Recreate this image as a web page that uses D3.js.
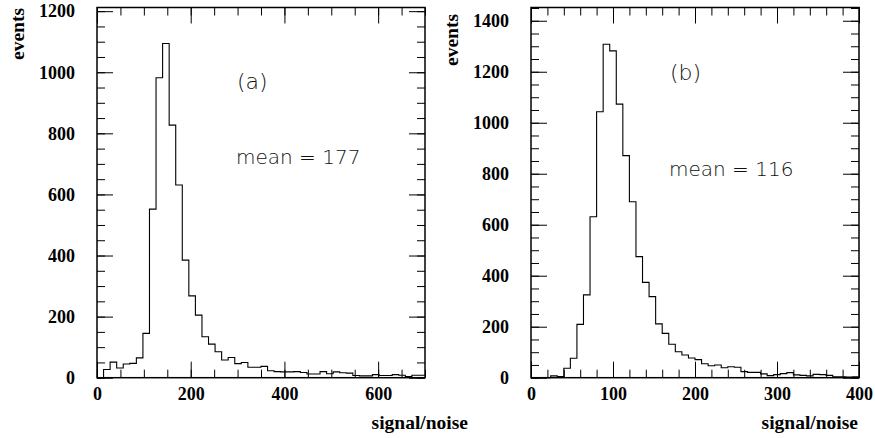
<!DOCTYPE html>
<html>
<head>
<meta charset="utf-8">
<script src="https://cdn.jsdelivr.net/npm/d3@7"></script>
<style>
body { margin: 0; background: #fff; }
.tick text { font-family: "Liberation Serif", serif; font-weight: bold; font-size: 18px; fill: #000; }
.tick line { stroke: #000; stroke-width: 1; }
.title { font-family: "Liberation Serif", serif; font-weight: bold; font-size: 19.5px; }
.note { font-family: "DejaVu Sans", sans-serif; font-weight: 200; font-size: 20px; fill: #111; }
.big { font-size: 22px; }
</style>
</head>
<body>
<svg id="chart" width="875" height="438"></svg>
<script>
// (a) counts per bin, 50 bins of width 14 from 0 to 700
var countsA = [0, 27, 51, 32, 45, 47, 65, 145, 552, 982,
	1094, 827, 631, 385, 268, 205, 134, 110, 85, 58,
	66, 46, 50, 34, 34, 37, 23, 20, 19, 19,
	20, 17, 12, 12, 20, 13, 19, 16, 15, 7,
	6, 6, 10, 7, 7, 10, 8, 4, 8, 8];
// (b) counts per bin, 50 bins of width 8 from 0 to 400
var countsB = [0, 0, 0, 7, 5, 37, 76, 209, 325, 631,
	1043, 1308, 1282, 1073, 871, 690, 475, 374, 318, 211,
	174, 131, 102, 89, 77, 71, 55, 47, 50, 39,
	43, 41, 24, 21, 21, 15, 8, 12, 16, 20,
	11, 9, 7, 13, 12, 9, 4, 4, 3, 4];
var binWidthA = 14;
var binWidthB = 8;

var xTicksA = [0, 200, 400, 600];
var yTicksA = [0, 200, 400, 600, 800, 1000, 1200];
var xTicksB = [0, 100, 200, 300, 400];
var yTicksB = [0, 200, 400, 600, 800, 1000, 1200, 1400];

var labelA = "(a)", meanA = "mean = 177";
var labelB = "(b)", meanB = "mean = 116";
var xTitle = "signal/noise", yTitle = "events";

var svg = d3.select("#chart");
var top0 = 7.5, bottom0 = 377.7;

function panel(opt) {
	var x = d3.scaleLinear().domain([0, opt.xMax]).range([opt.left, opt.right]);
	var y = d3.scaleLinear().domain([0, opt.yMax]).range([bottom0, top0]);
	var g = svg.append("g");
	var len = opt.right - opt.left;

	// minor ticks on all four sides
	var xMinor = d3.range(0, opt.xMax + 0.1, opt.xMinor);
	var yMinor = d3.range(0, opt.yMax, 50);

	g.append("g").attr("transform", "translate(0," + bottom0 + ")")
		.call(d3.axisBottom(x).tickValues(xMinor).tickSize(-8).tickFormat(""));
	g.append("g").attr("transform", "translate(0," + top0 + ")")
		.call(d3.axisTop(x).tickValues(xMinor).tickSize(-8).tickFormat(""));
	g.append("g").attr("transform", "translate(" + opt.left + ",0)")
		.call(d3.axisLeft(y).tickValues(yMinor).tickSize(-8).tickFormat(""));
	g.append("g").attr("transform", "translate(" + opt.right + ",0)")
		.call(d3.axisRight(y).tickValues(yMinor).tickSize(-8).tickFormat(""));

	// major ticks with labels
	g.append("g").attr("transform", "translate(0," + bottom0 + ")")
		.call(d3.axisBottom(x).tickValues(opt.xTicks).tickSizeInner(-16).tickSizeOuter(0).tickPadding(10).tickFormat(d3.format("d")));
	g.append("g").attr("transform", "translate(0," + top0 + ")")
		.call(d3.axisTop(x).tickValues(opt.xTicks).tickSize(-16).tickFormat(""));
	g.append("g").attr("transform", "translate(" + opt.left + ",0)")
		.call(d3.axisLeft(y).tickValues(opt.yTicks).tickSizeInner(-16).tickSizeOuter(0).tickPadding(22).tickFormat(d3.format("d")));
	g.append("g").attr("transform", "translate(" + opt.right + ",0)")
		.call(d3.axisRight(y).tickValues(opt.yTicks).tickSize(-16).tickFormat(""));

	g.selectAll(".domain").remove();

	// frame
	g.append("rect")
		.attr("x", opt.left).attr("y", top0)
		.attr("width", len).attr("height", bottom0 - top0)
		.attr("fill", "none").attr("stroke", "#000").attr("stroke-width", 1.5);

	// histogram as a step line
	var pts = opt.counts.map(function(c, i) { return [i * opt.bw, c]; });
	pts.push([opt.counts.length * opt.bw, opt.counts[opt.counts.length - 1]]);
	var line = d3.line()
		.x(function(d) { return x(d[0]); })
		.y(function(d) { return y(d[1]); })
		.curve(d3.curveStepAfter);
	g.append("path")
		.attr("d", line(pts))
		.attr("fill", "none").attr("stroke", "#000").attr("stroke-width", 1.1);

	// texts
	g.append("text").attr("class", "note big").attr("x", opt.lx).attr("y", opt.ly).text(opt.label);
	g.append("text").attr("class", "note").attr("x", opt.mx).attr("y", opt.my).text(opt.mean);
	g.append("text").attr("class", "title").attr("x", opt.xtx).attr("y", 429)
		.attr("text-anchor", "end").text(xTitle);
	g.append("text").attr("class", "title")
		.attr("transform", "translate(" + opt.ytx + "," + opt.yty + ") rotate(-90)")
		.attr("text-anchor", "end").text(yTitle);
}

panel({ counts: countsA, bw: binWidthA, xMax: 700, yMax: 1212, xMinor: 50,
	left: 97, right: 425, xTicks: xTicksA, yTicks: yTicksA,
	label: labelA, mean: meanA, lx: 237, ly: 89, mx: 236, my: 164,
	xtx: 468, ytx: 24, yty: 8 });

panel({ counts: countsB, bw: binWidthB, xMax: 400, yMax: 1452, xMinor: 20,
	left: 531, right: 859, xTicks: xTicksB, yTicks: yTicksB,
	label: labelB, mean: meanB, lx: 670, ly: 80, mx: 669, my: 176,
	xtx: 858, ytx: 458, yty: 14 });
</script>
</body>
</html>
